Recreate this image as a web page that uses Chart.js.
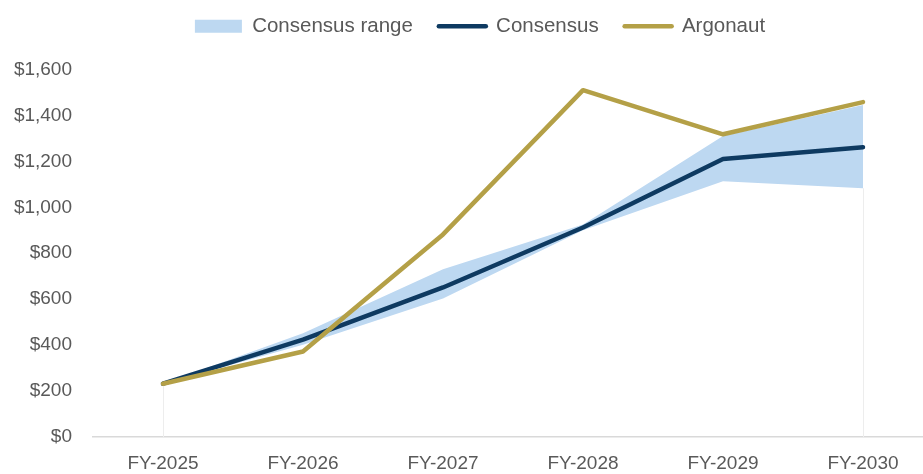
<!DOCTYPE html>
<html>
<head>
<meta charset="utf-8">
<script src="https://cdn.jsdelivr.net/npm/chart.js@4/dist/chart.umd.min.js"></script>
<style>
  html, body { margin: 0; padding: 0; background: #fff; overflow: hidden; }
  /* a touch wider than the window so the last category band runs off the edge */
  #wrap { width: 933px; height: 474px; position: relative; }
</style>
</head>
<body>
<div id="wrap"><canvas id="revChart"></canvas></div>
<script>
const years = ['FY-2025', 'FY-2026', 'FY-2027', 'FY-2028', 'FY-2029', 'FY-2030']
const consensus = [232, 424, 651, 912, 1210, 1262]
const argonaut = [232, 372, 882, 1510, 1318, 1458]
const rangeLow = [232, 402, 603, 900, 1113, 1083]
const rangeHigh = [232, 452, 730, 925, 1310, 1445]
const yTicks = [0, 200, 400, 600, 800, 1000, 1200, 1400, 1600]

const NAVY = '#0E3A61'
const GOLD = '#B4A047'
const RANGE_FILL = '#BDD8F1'
const TEXT = '#595959'

// faint edges at the ends of the range band, down to the axis
const bandEdges = {
    id: 'bandEdges',
    beforeDatasetsDraw (chart) {
        const { ctx, scales: { x, y } } = chart
        ctx.save()
        ctx.strokeStyle = '#EDEDED'
        ctx.lineWidth = 1
        for (const i of [0, years.length - 1]) {
            const px = Math.round(x.getPixelForValue(i)) + 0.5
            ctx.beginPath()
            ctx.moveTo(px, y.getPixelForValue(rangeLow[i]))
            ctx.lineTo(px, y.getPixelForValue(0))
            ctx.stroke()
        }
        ctx.restore()
    }
}

// more room between the legend and the plot, legend nudged right
const legendGap = {
    id: 'legendGap',
    beforeInit (chart) {
        const fit = chart.legend.fit
        chart.legend.fit = function () {
            fit.call(this)
            this.height += 23
        }
    },
    afterLayout (chart) {
        chart.legend.left += 13.5
        chart.legend.right += 13.5
    }
}

new Chart(document.getElementById('revChart'), {
    type: 'line',
    data: {
        labels: years,
        datasets: [
            {
                label: 'range-low',
                data: rangeLow,
                borderWidth: 0,
                borderColor: 'rgba(0,0,0,0)',
                pointRadius: 0,
                fill: false,
                order: 3
            },
            {
                label: 'Consensus range',
                data: rangeHigh,
                borderWidth: 0,
                borderColor: 'rgba(0,0,0,0)',
                backgroundColor: RANGE_FILL,
                pointRadius: 0,
                fill: '-1',
                order: 2
            },
            {
                label: 'Consensus',
                data: consensus,
                borderColor: NAVY,
                backgroundColor: NAVY,
                borderWidth: 4.5,
                borderCapStyle: 'round',
                borderJoinStyle: 'round',
                pointRadius: 0,
                fill: false,
                order: 1
            },
            {
                label: 'Argonaut',
                data: argonaut,
                borderColor: GOLD,
                backgroundColor: GOLD,
                borderWidth: 4.5,
                borderCapStyle: 'round',
                borderJoinStyle: 'round',
                pointRadius: 0,
                fill: false,
                order: 0
            }
        ]
    },
    options: {
        responsive: true,
        maintainAspectRatio: false,
        animation: false,
        layout: { autoPadding: false, padding: { top: -10, right: 0, left: 0, bottom: 0 } },
        plugins: {
            tooltip: { enabled: false },
            legend: {
                position: 'top',
                labels: {
                    font: { family: 'Liberation Sans', size: 20.5 },
                    color: TEXT,
                    padding: 26,
                    usePointStyle: true,
                    pointStyleWidth: 47,
                    boxHeight: 13,
                    sort: (a, b) => a.datasetIndex - b.datasetIndex,
                    filter: (item) => item.text !== 'range-low',
                    generateLabels (chart) {
                        return chart.data.datasets.map((ds, i) => {
                            const isBand = ds.fill === '-1'
                            return {
                                text: ds.label,
                                datasetIndex: i,
                                fontColor: TEXT,
                                fillStyle: isBand ? RANGE_FILL : ds.borderColor,
                                strokeStyle: isBand ? RANGE_FILL : ds.borderColor,
                                lineWidth: isBand ? 0 : 4.5,
                                lineCap: 'round',
                                pointStyle: isBand ? 'rect' : 'line',
                                hidden: false
                            }
                        })
                    }
                }
            }
        },
        scales: {
            x: {
                offset: true,
                grid: { display: false, drawTicks: false },
                border: { display: true, color: '#D9D9D9', width: 1.5 },
                afterFit (scale) { scale.height = 37 },
                ticks: {
                    font: { family: 'Liberation Sans', size: 19 },
                    color: TEXT,
                    padding: 15
                }
            },
            y: {
                min: 0,
                max: 1600,
                grid: { display: false, drawTicks: false },
                border: { display: false },
                afterFit (scale) { scale.width = 93 },
                afterBuildTicks (scale) {
                    scale.ticks = yTicks.map(v => ({ value: v }))
                },
                ticks: {
                    font: { family: 'Liberation Sans', size: 19 },
                    color: TEXT,
                    padding: 21,
                    callback: (v) => '$' + v.toLocaleString('en-US')
                }
            }
        }
    },
    plugins: [bandEdges, legendGap]
})
</script>
</body>
</html>
